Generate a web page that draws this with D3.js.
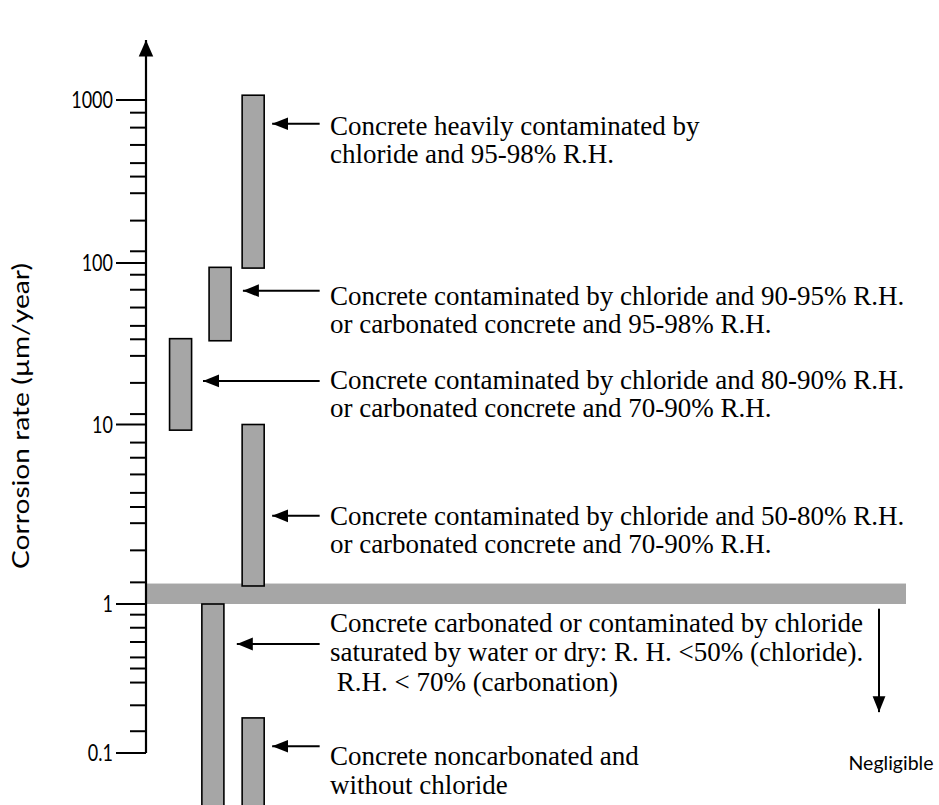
<!DOCTYPE html>
<html>
<head>
<meta charset="utf-8">
<script src="https://cdn.jsdelivr.net/npm/d3@7"></script>
<style>
  body { margin: 0; background: #fff; }
  svg { display: block; }
</style>
</head>
<body>
<div id="chart"></div>
<script>
// major ticks on the corrosion-rate axis
const majorTicks = [0.1, 1, 10, 100, 1000];
const majorLabels = ["0.1", "1", "10", "100", "1000"];
// minor ticks as they are drawn in the figure (not exact log steps)
const minorTicks = [
  836, 677, 530, 410, 339, 268, 182, 118,
  84.6, 68.3, 53, 40.8, 33.7, 26.6, 18.1, 11.6,
  7.93, 6.53, 5.27, 4.16, 3.47, 2.82, 1.99, 1.32,
  0.848, 0.693, 0.556, 0.438, 0.369, 0.297, 0.209, 0.140
];
const axisTop = 2330;

// corrosion rate ranges (um/year), lane = horizontal slot of the bar
const barLane = [2.82, 1.95, 0.91, 2.82, 1.76, 2.82];
const barLow  = [93, 33, 9.3, 1.26, 0.03, 0.03];
const barHigh = [1070, 94, 34, 10, 1, 0.172];

// annotation arrows: rate where the arrow points, and arrow tip lane
const noteRate = [715, 67.4, 18.6, 3.1, 0.539, 0.111];
const noteTip  = [3.32, 2.55, 1.5, 3.32, 2.39, 3.32];
const noteLines = [
  ["Concrete heavily contaminated by", "chloride and 95-98% R.H."],
  ["Concrete contaminated by chloride and 90-95% R.H.", "or carbonated concrete and 95-98% R.H."],
  ["Concrete contaminated by chloride and 80-90% R.H.", "or carbonated concrete and 70-90% R.H."],
  ["Concrete contaminated by chloride and 50-80% R.H.", "or carbonated concrete and 70-90% R.H."],
  ["Concrete carbonated or contaminated by chloride", "saturated by water or dry: R. H. <50% (chloride).", " R.H. < 70% (carbonation)"],
  ["Concrete noncarbonated and", "without chloride"]
];

// threshold band and "Negligible" arrow
const bandLow = 1.0, bandHigh = 1.3;
const negLane = 19.29, negFrom = 0.93, negTo = 0.188;

const W = 939, H = 805;
const svg = d3.select("#chart").append("svg")
  .attr("width", W).attr("height", H)
  .attr("viewBox", `0 0 ${W} ${H}`);

const y = d3.scaleLog()
  .domain([0.1, 1, 10, 100, 1000])
  .range([753, 604, 424.5, 263, 100]);
const x = d3.scaleLinear().domain([0, 20]).range([146, 906]);

const serif = "'Liberation Serif', 'Times New Roman', serif";
const sans = "Lato, 'Open Sans', sans-serif";

// Calibri-like narrow look: squeeze a sans text horizontally
function narrow(sel, k) {
  sel.each(function() {
    const len = this.getComputedTextLength();
    d3.select(this).attr("textLength", len * k).attr("lengthAdjust", "spacingAndGlyphs");
  });
}

// grey band
svg.append("rect")
  .attr("x", x(0) - 1).attr("width", x(20) - x(0) + 1)
  .attr("y", y(bandHigh)).attr("height", y(bandLow) - y(bandHigh))
  .attr("fill", "#a6a6a6");

// bars
const barW = x(0.58) - x(0);
svg.selectAll(".bar")
  .data(barLow.map((d, i) => ({ lo: d, hi: barHigh[i], lane: barLane[i] })))
  .enter().append("rect")
  .attr("class", "bar")
  .attr("x", d => x(d.lane) - barW / 2)
  .attr("width", barW)
  .attr("y", d => y(d.hi))
  .attr("height", d => y(d.lo) - y(d.hi))
  .attr("fill", "#a6a6a6")
  .attr("stroke", "#000")
  .attr("stroke-width", 1.6);

// arrow head markers
const defs = svg.append("defs");
defs.append("marker")
  .attr("id", "head")
  .attr("viewBox", "0 0 10 10")
  .attr("refX", 10).attr("refY", 5)
  .attr("markerWidth", 8).attr("markerHeight", 8)
  .attr("markerUnits", "strokeWidth")
  .attr("orient", "auto")
  .append("path").attr("d", "M0,1 L10,5 L0,9 Z").attr("fill", "#000");
defs.append("marker")
  .attr("id", "axhead")
  .attr("viewBox", "0 0 10 10")
  .attr("refX", 10).attr("refY", 5)
  .attr("markerWidth", 7.5).attr("markerHeight", 7.5)
  .attr("markerUnits", "strokeWidth")
  .attr("orient", "auto")
  .append("path").attr("d", "M0,0.6 L10,5 L0,9.4 Z").attr("fill", "#000");

// y axis line with arrow
svg.append("line")
  .attr("x1", x(0)).attr("x2", x(0))
  .attr("y1", y(0.1)).attr("y2", y(axisTop))
  .attr("stroke", "#000").attr("stroke-width", 2.2)
  .attr("marker-end", "url(#axhead)");

const axis = svg.append("g");
axis.selectAll(".major")
  .data(majorTicks)
  .enter().append("line")
  .attr("x1", x(0) - 30).attr("x2", x(0))
  .attr("y1", d => y(d)).attr("y2", d => y(d))
  .attr("stroke", "#000").attr("stroke-width", 2);
axis.selectAll(".minor")
  .data(minorTicks)
  .enter().append("line")
  .attr("x1", x(0) - 16).attr("x2", x(0))
  .attr("y1", d => y(d)).attr("y2", d => y(d))
  .attr("stroke", "#000").attr("stroke-width", 2);
axis.selectAll(".lab")
  .data(majorTicks)
  .enter().append("text")
  .attr("x", x(0) - 33)
  .attr("y", d => y(d))
  .attr("dy", "0.36em")
  .attr("text-anchor", "end")
  .style("font-family", sans).style("font-size", "22.5px")
  .text((d, i) => majorLabels[i])
  .call(narrow, 0.8);

svg.append("text")
  .attr("transform", `translate(29,416) rotate(-90)`)
  .attr("text-anchor", "middle")
  .style("font-family", sans).style("font-size", "22.5px")
  .attr("textLength", 306).attr("lengthAdjust", "spacingAndGlyphs")
  .text("Corrosion rate (µm/year)");

// annotations
const textShift = [3, 6, 0, 1, -20, 11];
const notes = svg.selectAll(".note")
  .data(noteRate.map((d, i) => ({ rate: d, tip: noteTip[i], lines: noteLines[i] })))
  .enter().append("g").attr("class", "note");
notes.append("line")
  .attr("x1", x(4.57)).attr("x2", d => x(d.tip))
  .attr("y1", d => y(d.rate)).attr("y2", d => y(d.rate))
  .attr("stroke", "#000").attr("stroke-width", 2)
  .attr("marker-end", "url(#head)");
notes.each(function(d, i) {
  const gap = d.lines.length > 2 ? 29.5 : 28.5;
  const t = d3.select(this).append("text")
    .style("font-family", serif).style("font-size", "27px")
    .attr("x", x(4.84))
    .attr("y", y(d.rate) + textShift[i] + 8);
  d.lines.forEach((ln, k) => {
    t.append("tspan").attr("x", x(4.84)).attr("dy", k === 0 ? 0 : gap)
      .attr("xml:space", "preserve").text(ln);
  });
});

// negligible arrow
svg.append("line")
  .attr("x1", x(negLane)).attr("x2", x(negLane))
  .attr("y1", y(negFrom)).attr("y2", y(negTo))
  .attr("stroke", "#000").attr("stroke-width", 2)
  .attr("marker-end", "url(#head)");
svg.append("text")
  .attr("x", x(negLane) + 12).attr("y", y(negTo) + 58)
  .attr("text-anchor", "middle")
  .style("font-family", sans).style("font-size", "19.5px")
  .text("Negligible");
</script>
</body>
</html>
